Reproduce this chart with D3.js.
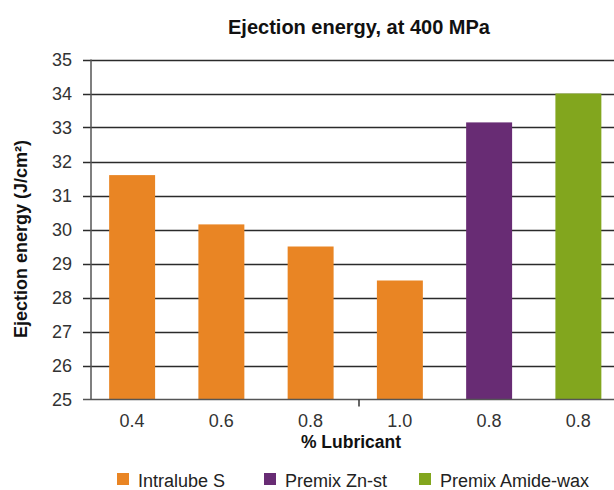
<!DOCTYPE html>
<html>
<head>
<meta charset="utf-8">
<script src="https://cdn.jsdelivr.net/npm/d3@7"></script>
<style>
  html, body { margin: 0; padding: 0; background: #fff; }
  svg { display: block; font-family: "Liberation Sans", Arial, Helvetica, sans-serif; }
</style>
</head>
<body>
<svg id="chart" width="614" height="490"></svg>
<script>
// ---- data ----
const categories = ["0.4", "0.6", "0.8", "1.0", "0.8", "0.8"];
const values = [31.6, 30.15, 29.5, 28.5, 33.15, 34.0];
const seriesOf = ["Intralube S", "Intralube S", "Intralube S", "Intralube S", "Premix Zn-st", "Premix Amide-wax"];
const seriesNames = ["Intralube S", "Premix Zn-st", "Premix Amide-wax"];
const seriesColors = ["#E98524", "#682C74", "#82A61E"];
const yTicks = [25, 26, 27, 28, 29, 30, 31, 32, 33, 34, 35];
const title = "Ejection energy, at 400 MPa";
const xTitle = "% Lubricant";
const yTitle = "Ejection energy (J/cm²)";

// ---- layout ----
const W = 614, H = 490;
const axisX = 91, axisY = 399.5, topY = 59.5;
const tickLeft = 83, rightEdge = 614;
const bandStart = 87.5, bandEnd = 623;

const svg = d3.select("#chart");

const x = d3.scaleBand()
  .domain(d3.range(categories.length))
  .range([bandStart, bandEnd])
  .paddingInner(0.485)
  .paddingOuter(0.2425);

const y = d3.scaleLinear().domain([25, 35]).range([axisY, topY]);

const color = d3.scaleOrdinal().domain(seriesNames).range(seriesColors);

// gridlines (extend left to form ticks)
svg.append("g").selectAll("line")
  .data(yTicks.filter(t => t !== 25))
  .join("line")
  .attr("x1", tickLeft).attr("x2", rightEdge)
  .attr("y1", d => Math.round(y(d)) + 0.5).attr("y2", d => Math.round(y(d)) + 0.5)
  .attr("stroke", "#2b2b2b").attr("stroke-width", 1.3);

// bars
svg.append("g").selectAll("rect")
  .data(values)
  .join("rect")
  .attr("x", (d, i) => x(i))
  .attr("width", x.bandwidth())
  .attr("y", d => y(d))
  .attr("height", d => y(25) - y(d))
  .attr("fill", (d, i) => color(seriesOf[i]));

// y axis line
svg.append("line")
  .attr("x1", axisX).attr("x2", axisX)
  .attr("y1", topY).attr("y2", axisY)
  .attr("stroke", "#555").attr("stroke-width", 1.5);

// x axis line
svg.append("line")
  .attr("x1", tickLeft).attr("x2", rightEdge)
  .attr("y1", axisY).attr("y2", axisY)
  .attr("stroke", "#555").attr("stroke-width", 1.5);

// middle x tick
const xMid = (axisX + bandEnd + 4) / 2;
svg.append("line")
  .attr("x1", xMid).attr("x2", xMid)
  .attr("y1", axisY).attr("y2", axisY + 7)
  .attr("stroke", "#333").attr("stroke-width", 1.5);

// y tick labels
svg.append("g").selectAll("text")
  .data(yTicks)
  .join("text")
  .attr("x", 72)
  .attr("y", d => y(d))
  .attr("dy", "0.36em")
  .attr("text-anchor", "end")
  .attr("font-size", 18)
  .attr("fill", "#333")
  .text(d => d);

// x tick labels
svg.append("g").selectAll("text")
  .data(categories)
  .join("text")
  .attr("x", (d, i) => x(i) + x.bandwidth() / 2)
  .attr("y", 427)
  .attr("text-anchor", "middle")
  .attr("font-size", 18)
  .attr("fill", "#333")
  .text(d => d);

// title
svg.append("text")
  .attr("x", 359).attr("y", 34)
  .attr("text-anchor", "middle")
  .attr("font-size", 20).attr("font-weight", "bold")
  .attr("fill", "#111")
  .text(title);

// x title
svg.append("text")
  .attr("x", 351).attr("y", 448)
  .attr("text-anchor", "middle")
  .attr("font-size", 17.5).attr("font-weight", "bold")
  .attr("fill", "#111")
  .text(xTitle);

// y title
svg.append("text")
  .attr("transform", "translate(27,239) rotate(-90)")
  .attr("text-anchor", "middle")
  .attr("font-size", 18).attr("font-weight", "bold")
  .attr("fill", "#111")
  .text(yTitle);

// legend
const legendX = [117, 264, 419];
const lg = svg.append("g").selectAll("g")
  .data(seriesNames)
  .join("g")
  .attr("transform", (d, i) => `translate(${legendX[i]},473)`);
lg.append("rect")
  .attr("width", 12).attr("height", 12)
  .attr("fill", d => color(d));
lg.append("text")
  .attr("x", 21).attr("y", 13.5)
  .attr("font-size", 18)
  .attr("fill", "#222")
  .text(d => d);
</script>
</body>
</html>
